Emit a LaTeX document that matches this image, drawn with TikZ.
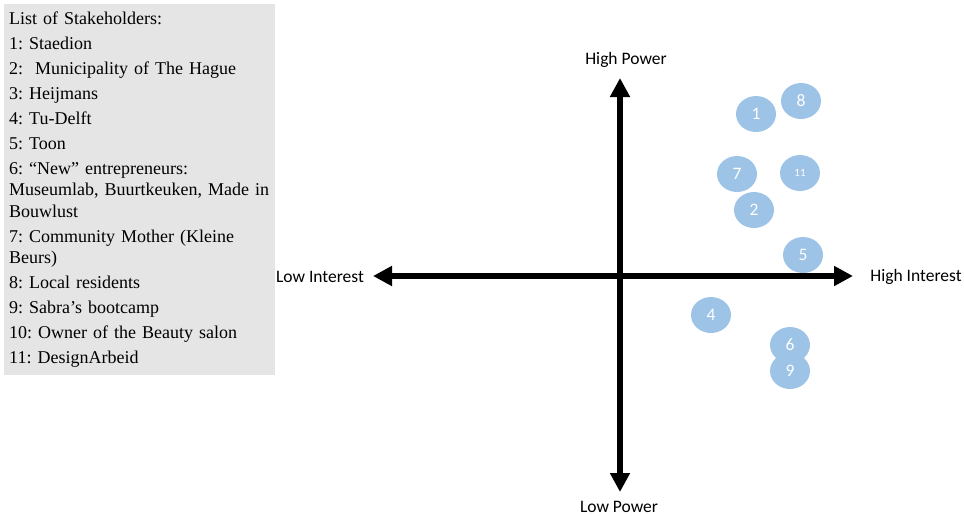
\documentclass[tikz,border=0pt]{standalone}
\usepackage{fontspec}
\setmainfont{Liberation Serif}
\newfontfamily\calibri{Carlito}
\usetikzlibrary{arrows.meta,shapes.geometric}
\definecolor{blob}{RGB}{157,195,230}
\frenchspacing

\begin{document}
\begin{tikzpicture}[
  x=1pt,y=-1pt,
  >={Triangle[length=19pt,width=19pt]},
  axis/.style={<->,line width=5.5pt},
  lbl/.style={font=\calibri\fontsize{17.5}{20}\selectfont,inner sep=0pt},
  stake/.style={ellipse,fill=blob,minimum width=40pt,minimum height=36pt,inner sep=0pt,
                text=white,font=\calibri\fontsize{17.5}{20}\selectfont},
  listbox/.style={fill=black!10,anchor=north west,align=left,text width=261pt,
                  minimum width=271pt,minimum height=371pt,inner xsep=5pt,
                  font=\fontsize{18}{21.5}\selectfont},
]
\useasboundingbox (0,0) rectangle (964,515);

% ---- list of stakeholders ----
\node[listbox] (list) at (4,4) {List of Stakeholders:\\[3.5pt]
  1: Staedion\\[3.5pt]
  2:\ \ Municipality of The Hague\\[3.5pt]
  3: Heijmans\\[3.5pt]
  4: Tu-Delft\\[3.5pt]
  5: Toon\\[3.5pt]
  6: “New” entrepreneurs:\\Museumlab, Buurtkeuken, Made in\\Bouwlust\\[3.5pt]
  7: Community Mother (Kleine\\Beurs)\\[3.5pt]
  8: Local residents\\[3.5pt]
  9: Sabra’s bootcamp\\[3.5pt]
  10: Owner of the Beauty salon\\[3.5pt]
  11: DesignArbeid};

% ---- axes ----
\coordinate (west) at (373,276);
\coordinate (east) at (853,276);
\coordinate (north) at (620,78);
\coordinate (south) at (620,492);
\draw[axis] (west) -- (east);
\draw[axis] (south) -- (north);
\node[lbl] (hipow) at (626,60) {High Power};
\node[lbl] (lopow) at (619,507) {Low Power};
\node[lbl] (loint) at (320,277) {Low Interest};
\node[lbl] (hiint) at (916,277) {High Interest};

% ---- stakeholders ----
\foreach \n/\x/\y in {1/756/114,8/801/101,7/737/174,2/754/210,5/803/255,4/711/315,6/790/345,9/790/371}
  \node[stake] (s\n) at (\x,\y) {\n};
\node[stake,font=\calibri\fontsize{11}{13}\selectfont] (s11) at (800,173) {11};
\end{tikzpicture}
\end{document}
